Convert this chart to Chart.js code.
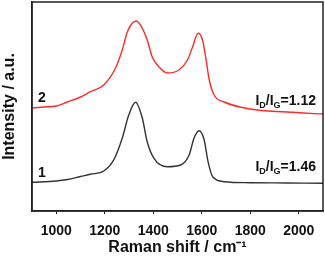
<!DOCTYPE html>
<html>
<head>
<meta charset="utf-8">
<script src="https://cdn.jsdelivr.net/npm/chart.js@4"></script>
<style>
  html, body { margin: 0; padding: 0; background: #fff; }
  #wrap { width: 325px; height: 261px; }
</style>
</head>
<body>
<div id="wrap"><canvas id="ramanChart"></canvas></div>
<script>
// spectrum 1 (black) and spectrum 2 (red)
const shift1 = [900, 1000, 1046, 1100, 1141, 1196, 1237, 1272, 1299, 1327, 1355, 1375, 1403, 1458, 1513, 1548, 1568, 1589, 1610, 1626, 1645, 1693, 1800, 1950, 2100];
const intensity1 = [28.7, 30, 31.5, 34.5, 36.7, 40, 51, 72.7, 96, 108.7, 92.7, 69.3, 52.7, 44.3, 46, 56, 72.7, 80.3, 71, 49.3, 34.3, 29.3, 28.3, 28, 27.7];
const shift2 = [900, 950, 1000, 1046, 1100, 1141, 1196, 1244, 1272, 1293, 1313, 1330, 1355, 1375, 1396, 1424, 1458, 1506, 1541, 1562, 1585, 1603, 1617, 1631, 1651, 1693, 1800, 1950, 2100];
const intensity2 = [103, 104, 105, 109, 114, 119.3, 126, 142.7, 161, 179, 187.7, 190, 182.7, 171, 154, 144, 138, 141, 151, 164, 177.7, 171, 152.7, 131, 116, 109, 102, 99, 97];
const xTicks = [1000, 1200, 1400, 1600, 1800, 2000];
const curveNames = ['1', '2'];
const ratios = ['1.46', '1.12'];

const FONT = '"Liberation Sans", Arial, sans-serif';

function toPoints(xs, ys) {
    return xs.map((x, i) => ({ x: x, y: ys[i] }));
}

// frame around the plot + curve labels
const framePlugin = {
    id: 'frame',
    afterDraw(chart) {
        const ctx = chart.ctx;
        const a = chart.chartArea;
        ctx.save();
        ctx.strokeStyle = '#222';
        ctx.lineWidth = 1.5;
        ctx.strokeRect(a.left, a.top, a.right - a.left, a.bottom - a.top);

        ctx.fillStyle = '#111';
        ctx.textBaseline = 'middle';
        const ys = [173, 98];
        const ry = [167, 101];
        for (let i = 0; i < curveNames.length; i++) {
            ctx.font = 'bold 14px ' + FONT;
            ctx.textAlign = 'left';
            ctx.fillText(curveNames[i], 38, ys[i]);

            // I_D/I_G=ratio, right aligned
            const parts = [['I', 0], ['D', 1], ['/I', 0], ['G', 1], ['=' + ratios[i], 0]];
            let w = 0;
            parts.forEach(p => {
                ctx.font = p[1] ? 'bold 9px ' + FONT : 'bold 14px ' + FONT;
                w += ctx.measureText(p[0]).width;
            });
            let x = 316 - w;
            parts.forEach(p => {
                ctx.font = p[1] ? 'bold 9px ' + FONT : 'bold 14px ' + FONT;
                ctx.fillText(p[0], x, ry[i] + (p[1] ? 5 : 0));
                x += ctx.measureText(p[0]).width;
            });
        }
        ctx.restore();
    }
};

new Chart(document.getElementById('ramanChart'), {
    type: 'line',
    data: {
        datasets: [{
            label: '1',
            data: toPoints(shift1, intensity1),
            borderColor: '#333',
            borderWidth: 1.4,
            pointRadius: 0,
            cubicInterpolationMode: 'monotone'
        }, {
            label: '2',
            data: toPoints(shift2, intensity2),
            borderColor: '#ff2a2a',
            borderWidth: 1.4,
            pointRadius: 0,
            cubicInterpolationMode: 'monotone'
        }]
    },
    options: {
        responsive: true,
        maintainAspectRatio: false,
        animation: false,
        layout: { padding: { top: 2, right: 2, left: 0, bottom: 0 } },
        plugins: { legend: { display: false }, tooltip: { enabled: false } },
        scales: {
            x: {
                type: 'linear',
                min: 900,
                max: 2100,
                afterBuildTicks: s => { s.ticks = xTicks.map(v => ({ value: v })); },
                afterFit: s => { s.height = 50; },
                grid: { drawOnChartArea: false, tickLength: 3, color: '#222' },
                border: { color: '#222', width: 1.5 },
                ticks: {
                    color: '#111',
                    padding: 9,
                    maxRotation: 0,
                    callback: v => String(v),
                    font: { family: FONT, size: 14, weight: 'bold' }
                },
                title: {
                    display: true,
                    text: 'Raman shift / cm\u207B\u00B9',
                    color: '#111',
                    padding: { top: 0, bottom: 4 },
                    font: { family: FONT, size: 16, weight: 'bold' }
                }
            },
            y: {
                min: 0,
                max: 209,
                afterFit: s => { s.width = 32; },
                grid: { display: false },
                border: { color: '#222', width: 1.5 },
                ticks: { display: false },
                title: {
                    display: true,
                    text: 'Intensity / a.u.',
                    color: '#111',
                    padding: { top: 0, bottom: 0 },
                    font: { family: FONT, size: 16, weight: 'bold' }
                }
            }
        }
    },
    plugins: [framePlugin]
});
</script>
</body>
</html>
